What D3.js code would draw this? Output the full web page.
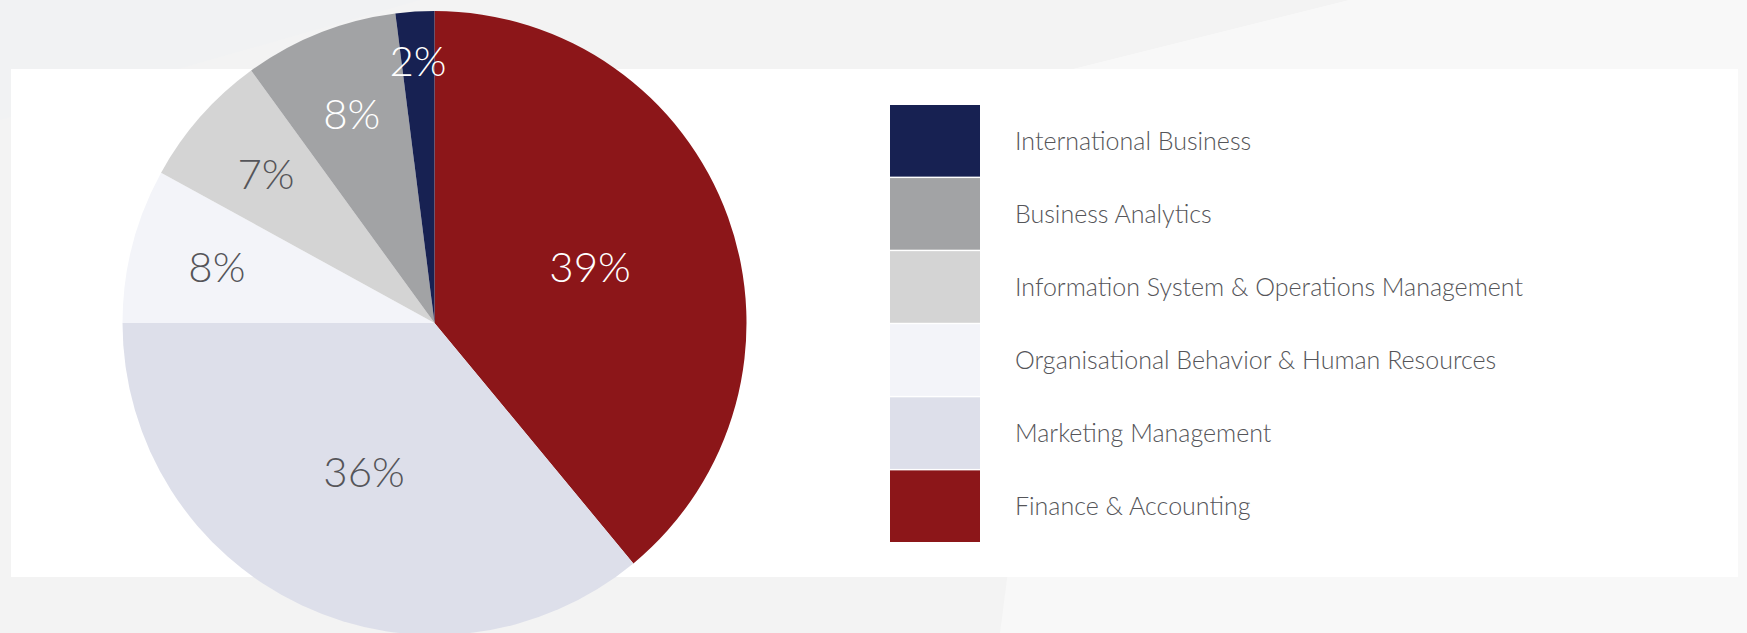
<!DOCTYPE html>
<html>
<head>
<meta charset="utf-8">
<script src="https://cdn.jsdelivr.net/npm/d3@7"></script>
<style>
  html, body { margin: 0; padding: 0; background: #f3f3f3; }
  svg { display: block; font-family: "Lato", "Open Sans", sans-serif; font-weight: 300; }
</style>
</head>
<body>
<div id="chart"></div>
<script>
// data, clockwise from 12 o'clock
const departments = [
  "Finance & Accounting",
  "Marketing Management",
  "Organisational Behavior & Human Resources",
  "Information System & Operations Management",
  "Business Analytics",
  "International Business"
];
const shares = [39, 36, 8, 7, 8, 2];
const sliceColors = ["#8c1619", "#dddfea", "#f3f4f9", "#d4d4d4", "#a2a3a5", "#172152"];
const labelColors = ["#ffffff", "#555559", "#555559", "#555559", "#ffffff", "#ffffff"];

const width = 1747, height = 633;
const card = {x: 11, y: 69, w: 1727, h: 508};
const center = {x: 434.5, y: 323};
const radius = 312;

const svg = d3.select("#chart").append("svg")
  .attr("width", width)
  .attr("height", height);

// soft background shapes
const bg = svg.append("g");
bg.append("rect").attr("width", width).attr("height", height).attr("fill", "#f3f3f3");
bg.append("path").attr("d", "M1349,0 L1747,0 L1747,633 L1000,633 L1073,69 Z").attr("fill", "#f8f8f8");
bg.append("path").attr("d", "M0,0 L420,0 L0,120 Z").attr("fill", "#f1f2f3");

// white card
svg.append("rect")
  .attr("x", card.x).attr("y", card.y)
  .attr("width", card.w).attr("height", card.h)
  .attr("fill", "#ffffff");

const pie = d3.pie().sort(null).value(d => d.value);
const rows = departments.map((name, i) => ({name, value: shares[i], color: sliceColors[i], text: labelColors[i]}));
const arcs = pie(rows);

const arc = d3.arc().innerRadius(0).outerRadius(radius);

const g = svg.append("g").attr("transform", `translate(${center.x},${center.y})`);

g.selectAll("path.slice")
  .data(arcs)
  .join("path")
    .attr("class", "slice")
    .attr("d", arc)
    .attr("fill", d => d.data.color);

// label radius: big slices near middle, small ones pushed outwards
function labelFactor(v) {
  if (v >= 20) return 0.53;
  if (v <= 3) return 0.84;
  return 0.72;
}

g.selectAll("text.pct")
  .data(arcs)
  .join("text")
    .attr("class", "pct")
    .attr("transform", d => {
      const r = radius * labelFactor(d.data.value);
      const c = d3.arc().innerRadius(r).outerRadius(r).centroid(d);
      return `translate(${c[0]},${c[1]})`;
    })
    .attr("text-anchor", "middle")
    .attr("dy", "0.35em")
    .attr("font-size", 42)
    .attr("fill", d => d.data.text)
    .text(d => d.data.value + "%");

// legend, listed in reverse order
const legendItems = rows.slice().reverse();
const legendY = d3.scaleBand()
  .domain(legendItems.map(d => d.name))
  .range([105, 542])
  .paddingInner(0.02);

const legend = svg.append("g");
const item = legend.selectAll("g")
  .data(legendItems)
  .join("g")
    .attr("transform", d => `translate(890,${legendY(d.name)})`);

item.append("rect")
  .attr("width", 90)
  .attr("height", legendY.bandwidth())
  .attr("fill", d => d.color);

item.append("text")
  .attr("x", 125)
  .attr("y", legendY.bandwidth() / 2)
  .attr("dy", "0.35em")
  .attr("font-size", 25)
  .attr("fill", "#555559")
  .text(d => d.name);
</script>
</body>
</html>
